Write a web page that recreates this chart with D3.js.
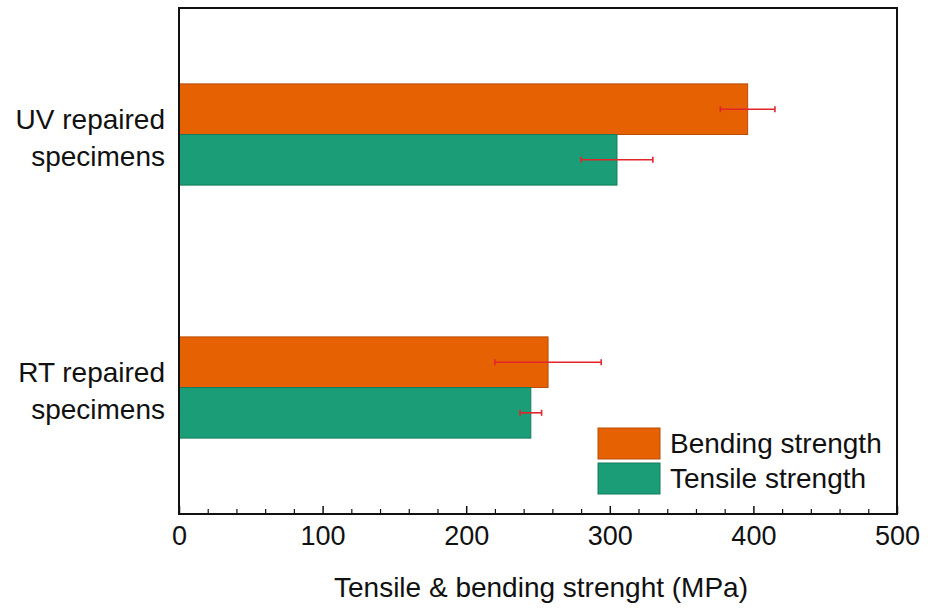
<!DOCTYPE html>
<html><head><meta charset="utf-8">
<script src="https://cdn.jsdelivr.net/npm/d3@7"></script>
<style>body{margin:0;background:#fff;} svg{display:block;font-family:Arial,"Liberation Sans",sans-serif;}</style>
</head><body>
<svg id="chart" width="928" height="614"></svg>
<script>
const categories = ["UV repaired specimens", "RT repaired specimens"];
const categoryLines = [["UV repaired", "specimens"], ["RT repaired", "specimens"]];
const seriesNames = ["Bending strength", "Tensile strength"];
const bendingValues = [396, 257];
const bendingErrors = [19, 37];
const tensileValues = [305, 245];
const tensileErrors = [25, 7.5];
const xTicks = [0, 100, 200, 300, 400, 500];
const colors = ["#e66101", "#1b9e77"];
const strokeColors = ["#b84d05", "#157a5c"];

(function () {
const svg = d3.select("#chart");
const mLeft = 179, mRight = 897, mTop = 8, mBottom = 514;

const x = d3.scaleLinear().domain([0, 500]).range([mLeft, mRight]);
const y = d3.scaleBand().domain(categories).range([mTop, mBottom]).paddingInner(0.6).paddingOuter(0.3);
const ySub = d3.scaleBand().domain(seriesNames).range([0, y.bandwidth()]);

const series = [
  {name: seriesNames[0], values: bendingValues, errors: bendingErrors},
  {name: seriesNames[1], values: tensileValues, errors: tensileErrors}
];

series.forEach((s, si) => {
  const g = svg.append("g");
  categories.forEach((c, ci) => {
    const y0 = y(c) + ySub(s.name);
    g.append("rect")
      .attr("x", x(0)).attr("y", y0)
      .attr("width", x(s.values[ci]) - x(0)).attr("height", ySub.bandwidth())
      .attr("fill", colors[si]).attr("stroke", strokeColors[si]).attr("stroke-width", 1);
  });
});
series.forEach((s, si) => {
  categories.forEach((c, ci) => {
    const yc = y(c) + ySub(s.name) + ySub.bandwidth() / 2;
    const x1 = x(s.values[ci] - s.errors[ci]), x2 = x(s.values[ci] + s.errors[ci]);
    const g = svg.append("g").attr("stroke", "#e3242b").attr("stroke-width", 1.6);
    g.append("line").attr("x1", x1).attr("x2", x2).attr("y1", yc).attr("y2", yc);
    g.append("line").attr("x1", x1).attr("x2", x1).attr("y1", yc - 3).attr("y2", yc + 3);
    g.append("line").attr("x1", x2).attr("x2", x2).attr("y1", yc - 3).attr("y2", yc + 3);
  });
});

svg.append("rect").attr("x", mLeft).attr("y", mTop).attr("width", mRight - mLeft).attr("height", mBottom - mTop)
  .attr("fill", "none").attr("stroke", "#111").attr("stroke-width", 2);

const minor = d3.range(0, 501, 20).filter(v => v % 100 !== 0);
const axis = d3.axisBottom(x).tickValues(xTicks).tickSize(-8).tickPadding(12).tickFormat(d3.format("d"));
const gx = svg.append("g").attr("transform", `translate(0,${mBottom})`).call(axis);
gx.select(".domain").remove();
gx.selectAll(".tick line").attr("stroke", "#111").attr("stroke-width", 1.5);
gx.selectAll(".tick text").attr("font-size", 27).attr("fill", "#111").attr("font-family", "Arial, 'Liberation Sans', sans-serif");
const axisMinor = d3.axisBottom(x).tickValues(minor).tickSize(-5).tickFormat("");
const gm = svg.append("g").attr("transform", `translate(0,${mBottom})`).call(axisMinor);
gm.select(".domain").remove();
gm.selectAll(".tick line").attr("stroke", "#111").attr("stroke-width", 1.2);

categories.forEach((c, ci) => {
  const yc = y(c) + y.bandwidth() / 2;
  const t = svg.append("text").attr("text-anchor", "end").attr("font-size", 28).attr("fill", "#111");
  t.append("tspan").attr("x", 165).attr("y", yc - 6).text(categoryLines[ci][0]);
  t.append("tspan").attr("x", 165).attr("y", yc + 31).text(categoryLines[ci][1]);
});

svg.append("text").attr("x", 541).attr("y", 597).attr("text-anchor", "middle")
  .attr("font-size", 28).attr("fill", "#111").text("Tensile & bending strenght (MPa)");

const lg = svg.append("g");
seriesNames.forEach((n, i) => {
  const yy = 428 + i * 35;
  lg.append("rect").attr("x", 598).attr("y", yy).attr("width", 62).attr("height", 31)
    .attr("fill", colors[i]).attr("stroke", strokeColors[i]).attr("stroke-width", 1);
  lg.append("text").attr("x", 670).attr("y", yy + 25).attr("font-size", 28).attr("fill", "#111").text(n);
});
})();
</script>
</body></html>
